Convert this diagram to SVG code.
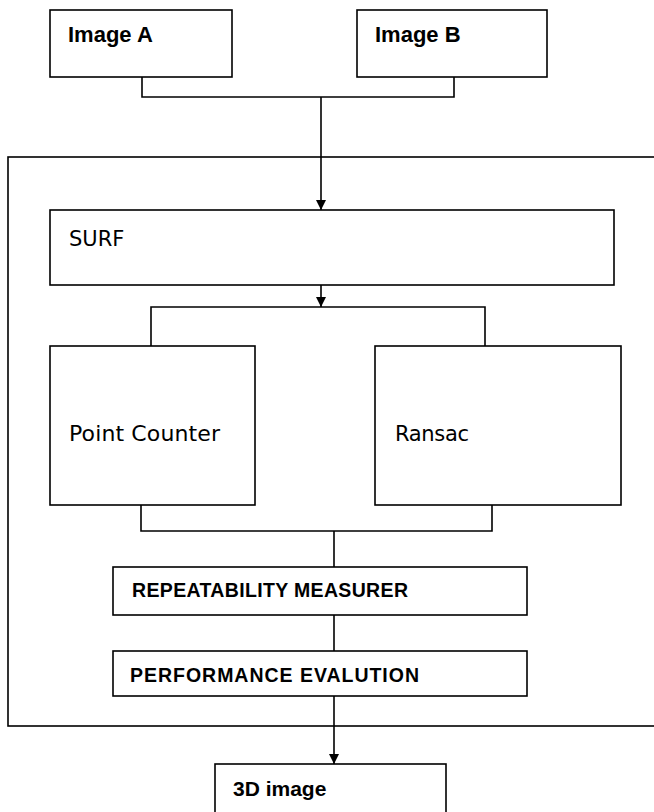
<svg xmlns="http://www.w3.org/2000/svg" width="654" height="812" viewBox="0 0 654 812">
<style>
.box{fill:#fff;stroke:#000;stroke-width:1.6}
.ln{fill:none;stroke:#000;stroke-width:1.6}
.b{font-family:"Liberation Sans",Arial,sans-serif;font-weight:bold;fill:#000}
.r{font-family:"DejaVu Sans",Verdana,sans-serif;fill:#000}
</style>
<defs>
<marker id="ah" viewBox="0 0 10 12" refX="10" refY="6" markerWidth="10" markerHeight="12" markerUnits="userSpaceOnUse" orient="auto">
<path d="M0,1 L10,6 L0,11 Z" fill="#000"/>
</marker>
</defs>
<rect width="654" height="812" fill="#fff"/>
<g id="container"><rect class="box" x="8" y="157" width="660" height="569" fill="none"/></g>
<g id="connectors">
<path class="ln" d="M142,77 V97 H454 V77"/>
<path class="ln" d="M321,97 V210" marker-end="url(#ah)"/>
<path class="ln" d="M321,285 V307" marker-end="url(#ah)"/>
<path class="ln" d="M151,346 V307 H485 V346"/>
<path class="ln" d="M141,505 V531 H492 V505"/>
<path class="ln" d="M334,531 V567"/>
<path class="ln" d="M334,615 V651"/>
<path class="ln" d="M334,696 V764" marker-end="url(#ah)"/>
</g>
<g id="imageA"><rect class="box" x="50" y="10" width="182" height="67"/><text class="b" x="68" y="42" font-size="22">Image A</text></g>
<g id="imageB"><rect class="box" x="357" y="10" width="190" height="67"/><text class="b" x="375" y="42" font-size="22">Image B</text></g>
<g id="surf"><rect class="box" x="50" y="210" width="564" height="75"/><text class="r" x="69" y="246" font-size="21">SURF</text></g>
<g id="pointCounter"><rect class="box" x="50" y="346" width="205" height="159"/><text class="r" x="69" y="441" font-size="22" textLength="151">Point Counter</text></g>
<g id="ransac"><rect class="box" x="375" y="346" width="246" height="159"/><text class="r" x="395" y="441" font-size="21" textLength="74">Ransac</text></g>
<g id="repeatability"><rect class="box" x="113" y="567" width="414" height="48"/><text class="b" x="132" y="597" font-size="19.5" textLength="276">REPEATABILITY MEASURER</text></g>
<g id="performance"><rect class="box" x="113" y="651" width="414" height="45"/><text class="b" x="130" y="682" font-size="19.5" textLength="289">PERFORMANCE EVALUTION</text></g>
<g id="image3d"><rect class="box" x="215" y="764" width="231" height="60"/><text class="b" x="233" y="796" font-size="21">3D image</text></g>
</svg>
